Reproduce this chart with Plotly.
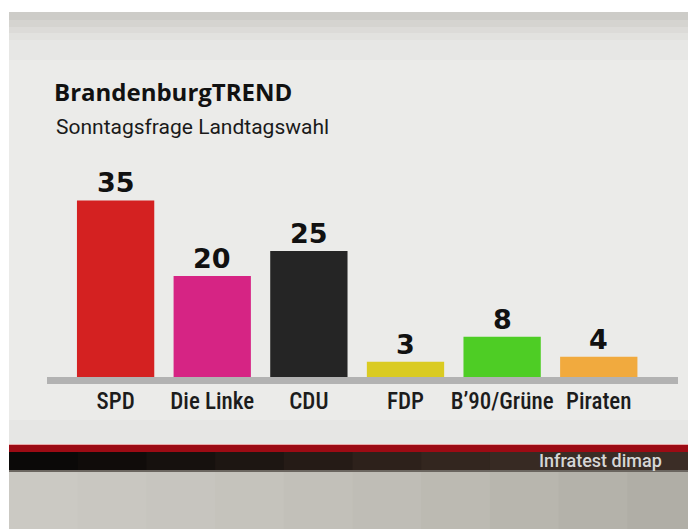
import plotly.graph_objects as go

# ---- data ----
parties = ["SPD", "Die Linke", "CDU", "FDP", "B’90/Grüne", "Piraten"]
values = [35, 20, 25, 3, 8, 4]
bar_colors = ["#d42121", "#d62484", "#252525", "#dacb22", "#4ecd25", "#f1aa3e"]
title_text = "BrandenburgTREND"
subtitle_text = "Sonntagsfrage Landtagswahl"
source_text = "Infratest dimap"

# ---- geometry (page pixels; the page body has an 8px margin) ----
OFF = 8
PW, PH = 696, 529
W, H = PW, PH
PL, PR, PT, PB = 47, 678, 150, 377  # plot area edges in page pixels
pw, ph = PR - PL, PB - PT


def fx(px):
    return (px - PL) / pw


def fy(py):
    return (PB - py) / ph


def rect(x0, y0, x1, y1, color):
    return dict(type="rect", xref="paper", yref="paper", layer="below",
                x0=fx(x0), x1=fx(x1), y0=fy(y1), y1=fy(y0),
                fillcolor=color, line=dict(width=0))


XE = PW + 12
shapes = []
panel = [(12, 20, "#cdccc8"), (20, 27, "#d5d4d0"), (27, 33, "#dcdbd8"),
         (33, 40, "#e2e2df"), (40, 60, "#e7e7e5"), (60, 420, "#ebebe9"),
         (420, 444, "#e6e6e4")]
for y0, y1, c in panel:
    shapes.append(rect(9, y0, XE, y1, c))
shapes.append(rect(9, 444, XE, 445, "#e9a7a7"))
shapes.append(rect(9, 445, XE, 452, "#9c0b14"))
dark = ["#0b0908", "#100c0a", "#16110e", "#1d1612", "#251b16", "#2d211b",
        "#33261f", "#372a23", "#3a2c25", "#3b2d26"]
low = ["#cbc9c3", "#c9c7c1", "#c7c5bf", "#c5c3bc", "#c2c0b9", "#bfbdb6",
       "#bcbab2", "#b8b6ae", "#b4b2aa", "#b0aea6"]
n = len(dark)
for i in range(n):
    x0 = 9 + (PW - 9) * i / n
    x1 = 9 + (PW - 9) * (i + 1) / n + (12 if i == n - 1 else 1)
    shapes.append(rect(x0, 452, x1, 471, dark[i]))
    shapes.append(rect(x0, 472, x1, PH + 12, low[i]))
shapes.append(rect(9, 470, XE, 472, "#6b6660"))

fig = go.Figure()
fig.add_trace(go.Bar(
    x=parties, y=values,
    marker=dict(color=bar_colors, line=dict(width=0)),
    hoverinfo="skip",
))

annotations = []
for p, v in zip(parties, values):
    annotations.append(dict(
        x=p, y=v, xref="x", yref="y", text=str(v), showarrow=False,
        yanchor="bottom", xanchor="center", yshift=0,
        font=dict(family="DejaVu Sans", size=27, color="#111111", weight="bold"),
    ))
annotations.append(dict(
    xref="paper", yref="paper", x=fx(54), y=fy(112.5), xanchor="left", yanchor="top",
    text=subtitle_text, showarrow=False,
    font=dict(family="Roboto", size=21, color="#1a1a1a"),
))
annotations.append(dict(
    xref="paper", yref="paper", x=fx(664), y=fy(460), xanchor="right", yanchor="middle",
    text=source_text, showarrow=False,
    font=dict(family="Roboto", size=18, color="#d6d6d6", weight=500),
))

fig.update_layout(
    width=W, height=H,
    margin=dict(l=PL - OFF, r=W + OFF - PR, t=PT - OFF, b=H + OFF - PB, pad=0),
    paper_bgcolor="#ffffff",
    plot_bgcolor="rgba(0,0,0,0)",
    showlegend=False,
    bargap=0.2,
    title=dict(text=title_text, xref="container", yref="container",
               x=(54 - OFF) / W, y=1 - (84 - OFF) / H, xanchor="left", yanchor="top",
               font=dict(family="Open Sans", size=24, color="#111111", weight="bold")),
    xaxis=dict(range=[-0.71, 5.82], showgrid=False, zeroline=False,
               showline=True, linecolor="#b2b2b2", linewidth=7, tickangle=0,
               ticks="", ticklabelstandoff=-3,
               tickfont=dict(family="Roboto Condensed", size=23, color="#1c1c1c", weight=500),
               fixedrange=True),
    yaxis=dict(range=[0, 45], visible=False, fixedrange=True),
    shapes=shapes,
    annotations=annotations,
)

fig.write_html("out.html")
